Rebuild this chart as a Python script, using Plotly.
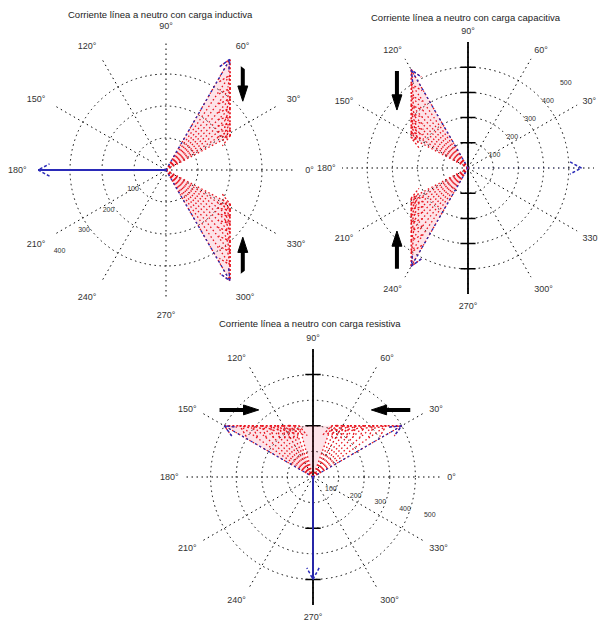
import numpy as np
import plotly.graph_objects as go

# ---------------- data ----------------
titles = ["Corriente línea a neutro con carga inductiva",
          "Corriente línea a neutro con carga capacitiva",
          "Corriente línea a neutro con carga resistiva"]
ang_ticks = [0, 30, 60, 90, 120, 150, 180, 210, 240, 270, 300, 330]

# plot 1 (inductiva)
p1_rings = [100, 200, 300, 400]
p1_edge_ang = [60, 300]
p1_edge_mag = [400, 400]
p1_neutral_ang = 180
p1_neutral_mag = 400
p1_fan_ang = [60, 56, 52, 48, 44, 40, 36, 32, 28, -28, -32, -36, -40, -44, -48, -52, -56, -60]
p1_fan_mag = [400, 358, 325, 299, 278, 261, 247, 236, 227, 227, 236, 247, 261, 278, 299, 325, 358, 400]
p1_arrow_x = [240, 240]
p1_arrow_y0 = [350, -345]
p1_arrow_y1 = [215, -210]

# plot 2 (capacitiva)
p2_rings = [100, 200, 300, 400, 500]
p2_edge_ang = [120, 240]
p2_edge_mag = [450, 450]
p2_neutral_ang = 0
p2_neutral_mag = 450
p2_fan_ang = [120, 124, 128, 132, 136, 140, 144, 148, 152, 208, 212, 216, 220, 224, 228, 232, 236, 240]
p2_fan_mag = [450, 402, 365, 336, 313, 294, 278, 265, 255, 255, 265, 278, 294, 313, 336, 365, 402, 450]
p2_vticks = [-400, -300, -200, -100, 100, 200, 300, 400]
p2_arrow_x = [-282, -282]
p2_arrow_y0 = [385, -400]
p2_arrow_y1 = [230, -250]

# plot 3 (resistiva)
p3_rings = [100, 200, 300, 400, 500]
p3_edge_ang = [150, 30]
p3_edge_mag = [400, 400]
p3_neutral_ang = 270
p3_neutral_mag = 400
p3_fan_ang = [150, 145, 140, 135, 130, 125, 120, 115, 110, 105, 30, 35, 40, 45, 50, 55, 60, 65, 70]
p3_fan_mag = [400, 349, 311, 283, 261, 244, 231, 221, 213, 207, 400, 349, 311, 283, 261, 244, 231, 221, 213]
p3_vticks = [-400, -200, 200, 400]
p3_arrow_x0 = [-365, 380]
p3_arrow_x1 = [-212, 228]
p3_arrow_y = [262, 262]

RED = "#e8141e"
BLUE = "#2a2ab8"
DOT = "1.5px,3.5px"
FONT = "Liberation Sans"

fig = go.Figure()


def to_pol(x, y):
    return float(np.hypot(x, y)), float(np.degrees(np.arctan2(y, x)))


def head(r, th, L, W):
    t = np.radians(th)
    x, y = r * np.cos(t), r * np.sin(t)
    ux, uy = np.cos(t), np.sin(t)
    px, py = -uy, ux
    a = to_pol(x - L * ux + W * px, y - L * uy + W * py)
    b = to_pol(x - L * ux - W * px, y - L * uy - W * py)
    return [a[0], r, b[0]], [a[1], th, b[1]]


def add(sp, r, th, color, width=1, dash=None, mode="lines", fill=None, fillcolor=None):
    fig.add_trace(go.Scatterpolar(r=r, theta=th, mode=mode, subplot=sp,
                                  line=dict(color=color, width=width, dash=dash),
                                  fill=fill, fillcolor=fillcolor,
                                  showlegend=False, hoverinfo="skip"))


def phasor_group(sp, R, fan_ang, fan_mag, edge_ang, edge_mag, n_ang, n_mag, n_line=True):
    L, W = 0.09 * R, 0.04 * R
    # light tint of the swept regions (two bands)
    half = len(fan_ang) // 2
    for sl in (slice(0, half), slice(half, len(fan_ang))):
        fa, fm = fan_ang[sl], fan_mag[sl]
        add(sp, [0] + list(fm) + [0], [fa[0]] + list(fa) + [fa[-1]],
            "rgba(0,0,0,0)", 0, fill="toself", fillcolor="rgba(240,60,90,0.14)")
    # fan of red phasors
    for a, m in zip(fan_ang, fan_mag):
        add(sp, [0, m], [a, a], RED, 1.3, "1.5px,2.5px")
        hr, ht = head(m, a, L, W)
        add(sp, hr, ht, RED, 1.3, "2px,2px")
    # chords between successive tips
    for i in range(len(fan_ang) - 1):
        if abs(fan_ang[i + 1] - fan_ang[i]) <= 6:
            add(sp, [fan_mag[i], fan_mag[i + 1]], [fan_ang[i], fan_ang[i + 1]], RED, 1.7, "2px,2px")
    # blue dotted edges
    for a, m in zip(edge_ang, edge_mag):
        add(sp, [0, m], [a, a], BLUE, 1.3, "2px,3px")
        hr, ht = head(m, a, L, W)
        add(sp, hr, ht, BLUE, 1.4, "3px,2px")
    # neutral / resulting phasor
    if n_line:
        add(sp, [0, n_mag], [n_ang, n_ang], BLUE, 1.8)
    else:
        add(sp, [0, n_mag], [n_ang, n_ang], BLUE, 0.5, "1px,4px")
    hr, ht = head(n_mag, n_ang, L, W * 1.2)
    add(sp, hr, ht, BLUE, 1.5, "3px,2px")


def black_arrow(sp, xs, ys):
    rr, tt = [], []
    for x, y in zip(xs, ys):
        r, t = to_pol(x, y)
        rr.append(r)
        tt.append(t)
    fig.add_trace(go.Scatterpolar(r=rr, theta=tt, mode="lines+markers", subplot=sp,
                                  line=dict(color="black", width=4),
                                  marker=dict(symbol=["circle", "arrow"], size=[0, 16], color="#000000",
                                              opacity=1, line=dict(width=1, color="#000000"),
                                              angleref="previous"),
                                  showlegend=False, hoverinfo="skip"))


def vline(sp, R, vticks, tw):
    add(sp, [R, 0, R], [90, 90, 270], "black", 1.8)
    for v in vticks:
        r1, t1 = to_pol(-tw, v)
        r2, t2 = to_pol(tw, v)
        add(sp, [r1, abs(v), r2], [t1, 90 if v > 0 else 270, t2], "black", 1.5)


# plot 1
phasor_group("polar", 400, p1_fan_ang, p1_fan_mag, p1_edge_ang, p1_edge_mag, p1_neutral_ang, p1_neutral_mag)
for x, y0, y1 in zip(p1_arrow_x, p1_arrow_y0, p1_arrow_y1):
    black_arrow("polar", [x, x], [y0, y1])

# plot 2
vline("polar2", 500, p2_vticks, 30)
phasor_group("polar2", 500, p2_fan_ang, p2_fan_mag, p2_edge_ang, p2_edge_mag, p2_neutral_ang, p2_neutral_mag, n_line=False)
for x, y0, y1 in zip(p2_arrow_x, p2_arrow_y0, p2_arrow_y1):
    black_arrow("polar2", [x, x], [y0, y1])

# plot 3
vline("polar3", 500, p3_vticks, 30)
phasor_group("polar3", 500, p3_fan_ang, p3_fan_mag, p3_edge_ang, p3_edge_mag, p3_neutral_ang, p3_neutral_mag)
for x0, x1, y in zip(p3_arrow_x0, p3_arrow_x1, p3_arrow_y):
    black_arrow("polar3", [x0, x1], [y, y])


def polar_cfg(dom_x, dom_y, R, rings, rad_angle, tick_angle, standoff, hide=()):
    return dict(
        domain=dict(x=dom_x, y=dom_y),
        bgcolor="white",
        angularaxis=dict(rotation=0, direction="counterclockwise",
                         tickmode="array", tickvals=ang_ticks,
                         ticktext=["" if a in hide else f"{a}°" for a in ang_ticks],
                         showline=False, showgrid=True, gridcolor="black",
                         griddash=DOT, gridwidth=1.1,
                         ticks="outside", ticklen=standoff, tickcolor="rgba(0,0,0,0)",
                         tickfont=dict(size=9, color="#333", family=FONT)),
        radialaxis=dict(range=[0, R], tickmode="array", tickvals=rings,
                        showline=False, showgrid=True, gridcolor="black",
                        griddash=DOT, gridwidth=1.1, ticks="", angle=rad_angle,
                        tickangle=tick_angle,
                        tickfont=dict(size=7, color="#333", family=FONT)),
    )


# the page body adds an 8px offset, so the figure is drawn 8px smaller
OFF = 8
W, H = 606 - OFF, 623 - OFF


def dom(cx, cy, r):
    cx, cy = cx - OFF, cy - OFF
    return [(cx - r) / W, (cx + r) / W], [(H - cy - r) / H, (H - cy + r) / H]


d1 = dom(166, 170, 128)
d2 = dom(468, 168, 126)
d3 = dom(313, 477, 128)


def ann(text, x, y):
    return dict(text=text, x=(x - OFF) / W, y=1 - (y - OFF) / H, xref="paper", yref="paper",
                xanchor="center", yanchor="middle",
                showarrow=False, font=dict(size=9.5, color="#222", family=FONT))


fig.update_layout(
    width=W, height=H, margin=dict(l=0, r=0, t=0, b=0),
    paper_bgcolor="white", plot_bgcolor="white",
    polar=polar_cfg(d1[0], d1[1], 400, p1_rings, 220, -140, 9),
    polar2=polar_cfg(d2[0], d2[1], 500, p2_rings, 45, 45, 4, hide=(0,)),
    polar3=polar_cfg(d3[0], d3[1], 500, p3_rings, 345, -15, 4),
    annotations=[ann(titles[0], 160, 14), ann(titles[1], 466, 18), ann(titles[2], 310, 323)],
)

fig.write_html("out.html")
